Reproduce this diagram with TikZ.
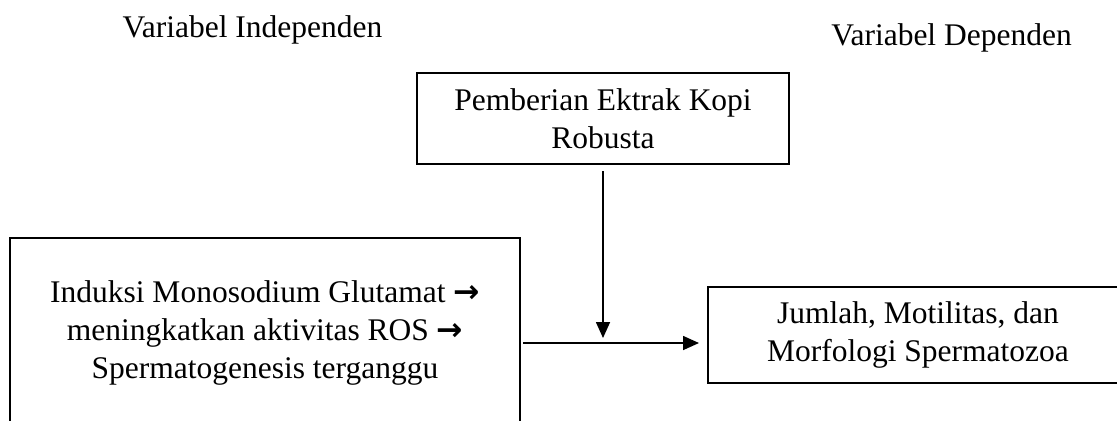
\documentclass[tikz,border=0pt]{standalone}
\usepackage{fontspec}
\setmainfont{Liberation Serif}
\newfontfamily\arrowfont{DejaVu Sans}
\usetikzlibrary{arrows.meta}
\newcommand{\panah}{{\arrowfont\bfseries →}}

\tikzset{
  kotak/.style = {draw, line width = 1pt, align = center, inner sep = 0pt},
  panahgaris/.style = {line width = 0.8pt, -{Triangle[length = 8pt, width = 7pt]}},
  teks/.style = {font = \fontsize{15.75}{19}\selectfont}
}

\begin{document}
\begin{tikzpicture}[x = 0.5pt, y = -0.5pt, teks]

\useasboundingbox (0,0) rectangle (1117,420);

\node[anchor = base] (indep) at (252.5,37) {Variabel Independen};
\node[anchor = base] (dep) at (951.5,45) {Variabel Dependen};

\node[kotak, minimum width = 186pt, minimum height = 45.5pt] (kopi) at (603,118.5)
  {Pemberian Ektrak Kopi\\ Robusta};
\node[kotak, minimum width = 255pt, minimum height = 95pt] (msg) at (265,333)
  {Induksi Monosodium Glutamat \panah\\ meningkatkan aktivitas ROS \panah\\ Spermatogenesis terganggu};
\node[kotak, minimum width = 210pt, minimum height = 48pt] (hasil) at (918,335)
  {Jumlah, Motilitas, dan\\ Morfologi Spermatozoa};

\coordinate (temu) at (603,343);

\draw[panahgaris] ([yshift = -3pt]kopi.south) -- ([yshift = 2.5pt]temu);
\draw[panahgaris] ([xshift = 1pt]msg.east |- temu) -- ([xshift = -4pt]hasil.west |- temu);

\end{tikzpicture}
\end{document}
